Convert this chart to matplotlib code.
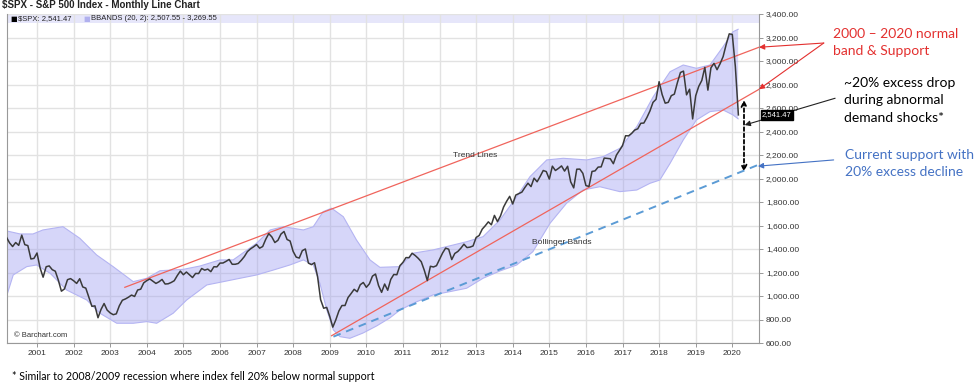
import numpy as np
import matplotlib.pyplot as plt
from matplotlib.transforms import blended_transform_factory

# Monthly S&P 500 closes, March 2000 .. March 2020 (last = 2,541.47)
spx_close = [
    1499, 1452, 1421, 1455, 1431, 1518, 1437, 1429, 1315, 1320,
    1366, 1240, 1160, 1249, 1256, 1224, 1211, 1134, 1041, 1060, 1139, 1148,
    1130, 1107, 1147, 1077, 1067, 990, 912, 916, 815, 886, 936, 880,
    856, 841, 848, 917, 964, 975, 990, 1008, 996, 1051, 1058, 1112,
    1131, 1145, 1126, 1107, 1121, 1141, 1102, 1104, 1115, 1130, 1174, 1212,
    1181, 1204, 1181, 1157, 1192, 1191, 1234, 1220, 1229, 1207, 1249, 1248,
    1280, 1281, 1295, 1311, 1270, 1270, 1277, 1304, 1336, 1378, 1401, 1418,
    1438, 1407, 1421, 1482, 1531, 1503, 1455, 1474, 1527, 1549, 1481, 1468,
    1379, 1331, 1323, 1386, 1400, 1280, 1267, 1283, 1166, 969, 896, 903,
    826, 735, 798, 873, 919, 919, 987, 1021, 1057, 1036, 1096, 1115,
    1074, 1104, 1169, 1187, 1089, 1031, 1102, 1049, 1141, 1183, 1181, 1258,
    1286, 1327, 1326, 1364, 1345, 1321, 1292, 1219, 1131, 1253, 1247, 1258,
    1312, 1366, 1408, 1398, 1310, 1362, 1379, 1407, 1441, 1412, 1416, 1426,
    1498, 1515, 1569, 1598, 1631, 1606, 1686, 1633, 1682, 1757, 1806, 1848,
    1783, 1859, 1872, 1884, 1924, 1960, 1931, 2003, 1972, 2018, 2068, 2059,
    1995, 2105, 2068, 2086, 2107, 2063, 2104, 1972, 1920, 2079, 2080, 2044,
    1940, 1932, 2060, 2065, 2097, 2099, 2174, 2171, 2168, 2126, 2199, 2239,
    2279, 2364, 2363, 2384, 2412, 2423, 2470, 2472, 2519, 2575, 2648, 2674,
    2824, 2714, 2641, 2648, 2705, 2718, 2816, 2902, 2914, 2712, 2760, 2507,
    2704, 2784, 2834, 2946, 2752, 2942, 2980, 2926, 2977, 3038, 3141, 3231,
    3226, 2954, 2541.47,
]
first_month = 2000 + 2 / 12

# Bollinger bands (20, 2)
upper_x = [2000.18, 2000.54, 2000.89, 2001.16, 2001.71, 2002.17, 2002.63, 2003.08,
           2003.63, 2004.00, 2004.36, 2005.00, 2005.45, 2006.00, 2006.36, 2007.00,
           2007.37, 2007.73, 2008.28, 2008.55, 2008.82, 2009.05, 2009.37, 2009.73,
           2010.10, 2010.37, 2010.92, 2011.27, 2011.82, 2012.19, 2012.74, 2013.19,
           2013.65, 2014.11, 2014.47, 2014.93, 2015.38, 2016.02, 2016.47, 2016.93,
           2017.39, 2017.84, 2018.30, 2018.66, 2019.02, 2019.39, 2019.75, 2020.02, 2020.16]
upper_y = [1553, 1528, 1528, 1562, 1590, 1491, 1349, 1250,
           1122, 1151, 1215, 1227, 1255, 1307, 1307, 1449,
           1562, 1590, 1562, 1590, 1718, 1747, 1675, 1477,
           1307, 1244, 1250, 1364, 1392, 1420, 1462, 1505,
           1647, 1845, 2015, 2158, 2172, 2158, 2186, 2257,
           2441, 2696, 2909, 2966, 2938, 2966, 3122, 3249, 3270]
lower_x = [2000.18, 2000.35, 2000.72, 2000.99, 2001.36, 2001.81, 2002.36, 2002.72,
           2003.18, 2003.63, 2004.00, 2004.27, 2004.72, 2005.09, 2005.64, 2006.09,
           2006.55, 2007.00, 2007.46, 2007.91, 2008.28, 2008.55, 2008.73, 2008.92,
           2009.10, 2009.28, 2009.55, 2009.91, 2010.28, 2010.64, 2010.92, 2011.36,
           2011.82, 2012.28, 2012.74, 2013.19, 2013.65, 2014.11, 2014.55, 2015.02,
           2015.47, 2015.92, 2016.38, 2016.93, 2017.39, 2017.75, 2018.02, 2018.30,
           2018.66, 2019.02, 2019.39, 2019.75, 2020.02, 2020.16]
lower_y = [1009, 1179, 1250, 1264, 1193, 1051, 966, 853,
           768, 768, 782, 768, 853, 966, 1094, 1122,
           1151, 1179, 1221, 1264, 1307, 1264, 1108, 881,
           711, 654, 640, 685, 745, 813, 881, 949,
           1009, 1037, 1066, 1151, 1213, 1264, 1377, 1619,
           1789, 1902, 1930, 1888, 1902, 1959, 1987, 2129,
           2328, 2498, 2569, 2583, 2541, 2508]

# Hand-drawn trend lines (start / end)
trend_upper_x = [2003.40, 2020.73]
trend_upper_y = [1074, 3117]
trend_lower_x = [2009.05, 2020.73]
trend_lower_y = [662, 2759]
support_x = [2009.10, 2020.70]
support_y = [654, 2115]

# Excess drop marker
drop_x = 2020.32
drop_top, drop_bottom = 2668, 2058

year_ticks = list(range(2001, 2021))
price_ticks = list(range(600, 3401, 200))

RED = '#e3302f'
BLUE = '#4472c4'
chart_font = 'Liberation Sans'
note_font = 'Lato'
note_size = 10

fig = plt.figure(figsize=(9.74, 3.87), dpi=100)
ax = fig.add_axes([7 / 974, 1 - 343 / 387, 752 / 974, 329 / 387])

months = first_month + np.arange(len(spx_close)) / 12

ax.axhspan(3320, 3400, color='#e6e6fa', zorder=0.3, lw=0)

band_x = np.concatenate([upper_x, lower_x[::-1]])
band_y = np.concatenate([upper_y, lower_y[::-1]])
ax.fill(band_x, band_y, facecolor='#9a9af0', alpha=0.4, lw=0, zorder=1)
ax.plot(upper_x, upper_y, color='#b4b4f2', lw=0.8, zorder=1.1)
ax.plot(lower_x, lower_y, color='#b4b4f2', lw=0.8, zorder=1.1)

ax.plot(months, spx_close, color='#3a3a3a', lw=1.1, zorder=3)

ax.plot(trend_upper_x, trend_upper_y, color='#f0645c', lw=0.9, zorder=2)
ax.plot(trend_lower_x, trend_lower_y, color='#f0645c', lw=0.9, zorder=2)
ax.plot(support_x, support_y, color='#5b9bd5', lw=1.4, ls=(0, (4, 3)), zorder=2)

ax.set_xlim(2000.18, 2020.73)
ax.set_ylim(600, 3400)
ax.set_xticks(year_ticks)
ax.set_xticklabels([str(y) for y in year_ticks], fontsize=6, family=chart_font, color='#333333')
ax.yaxis.tick_right()
ax.set_yticks(price_ticks)
ax.set_yticklabels([f'{v:,.2f}' for v in price_ticks], fontsize=6, family=chart_font, color='#333333')
ax.tick_params(axis='both', length=3, width=0.6, color='#888888', pad=2)
ax.grid(True, color='#e2e2e2', lw=1)
ax.set_axisbelow(True)
for side in ['left', 'bottom', 'right']:
    ax.spines[side].set_color('#999999')
    ax.spines[side].set_linewidth(0.8)
ax.spines['top'].set_visible(False)

# title and legend strip
strip = blended_transform_factory(ax.transAxes, ax.transData)
fig.text(2 / 974, 1 - 5 / 387, r'\$SPX - S&P 500 Index - Monthly Line Chart', fontsize=7,
         fontweight='bold', family=chart_font, va='center', ha='left', color='#222222')
ax.text(0.004, 3360, '■', color='black', fontsize=5, family='DejaVu Sans', va='center', transform=strip)
ax.text(0.014, 3360, r'\$SPX: 2,541.47', color='#222222', fontsize=5.5, family=chart_font,
        va='center', transform=strip)
ax.text(0.102, 3360, '■', color='#b0b0ee', fontsize=5, family='DejaVu Sans', va='center', transform=strip)
ax.text(0.112, 3360, 'BBANDS (20, 2): 2,507.55 - 3,269.55', color='#222222', fontsize=5.5,
        family=chart_font, va='center', transform=strip)

# last price tag
ax.text(1.004, spx_close[-1], f'{spx_close[-1]:,.2f}', color='white', fontsize=5.5, family=chart_font,
        va='center', ha='left', transform=strip,
        bbox=dict(boxstyle='square,pad=0.15', fc='black', ec='black'), clip_on=False, zorder=5)

ax.text(0.009, 0.024, '© Barchart.com', transform=ax.transAxes, fontsize=5.5, family=chart_font,
        color='#333333', va='center')
ax.text(2012.98, 2192, 'Trend Lines', fontsize=6, family=chart_font, color='#333333', ha='center', va='center')
ax.text(2015.35, 1454, 'Bollinger Bands', fontsize=6, family=chart_font, color='#333333', ha='center', va='center')

# excess-drop double arrow
ax.annotate('', xy=(drop_x, drop_bottom), xytext=(drop_x, drop_top),
            arrowprops=dict(arrowstyle='<->', color='black', lw=1.3, ls=(0, (2, 1.5)),
                            mutation_scale=9, shrinkA=0, shrinkB=0), zorder=6)

# annotation arrows to the right-hand notes
arrow_kw = dict(arrowstyle='-|>', lw=0.8, mutation_scale=8, shrinkA=0, shrinkB=0)
ax.annotate('', xy=(trend_upper_x[1], trend_upper_y[1]), xytext=(2022.5, 3153),
            arrowprops=dict(color=RED, **arrow_kw), annotation_clip=False)
ax.annotate('', xy=(trend_lower_x[1], trend_lower_y[1]), xytext=(2022.5, 3153),
            arrowprops=dict(color=RED, **arrow_kw), annotation_clip=False)
ax.annotate('', xy=(2020.34, 2455), xytext=(2022.81, 2683),
            arrowprops=dict(color='#222222', **arrow_kw), annotation_clip=False)
ax.annotate('', xy=(support_x[1], support_y[1] - 10), xytext=(2022.77, 2158),
            arrowprops=dict(color=BLUE, **arrow_kw), annotation_clip=False)

notes = [
    (833, 34, '2000 – 2020 normal', RED),
    (833, 51, 'band & Support', RED),
    (844, 83, '~20% excess drop', 'black'),
    (844, 100, 'during abnormal', 'black'),
    (844, 118, 'demand shocks*', 'black'),
    (845, 155, 'Current support with', BLUE),
    (845, 172.5, '20% excess decline', BLUE),
]
for px, py, txt, col in notes:
    fig.text(px / 974, 1 - py / 387, txt, color=col, fontsize=note_size, family=note_font, va='center')

fig.text(12 / 974, 1 - 377 / 387, '* Similar to 2008/2009 recession where index fell 20% below normal support',
         color='black', fontsize=7.7, family=note_font, va='center')

fig.savefig('out.png', dpi=100, facecolor='white')
